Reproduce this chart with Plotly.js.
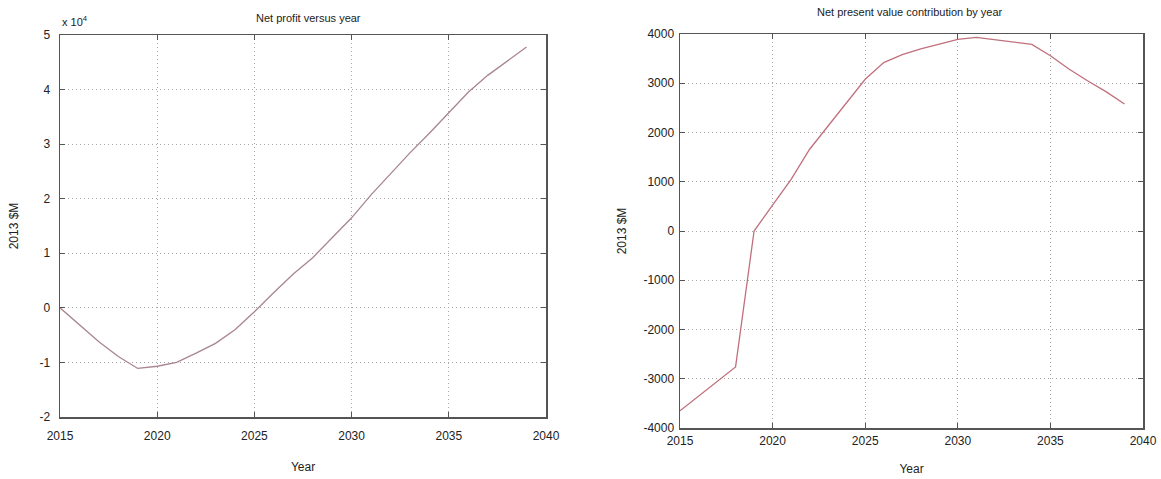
<!DOCTYPE html>
<html>
<head>
<meta charset="utf-8">
<script src="https://cdn.plot.ly/plotly-3.0.1.min.js"></script>
<style>html,body{margin:0;padding:0;background:#fff;}#chart{width:1161px;height:479px;}</style>
</head>
<body>
<div id="chart"></div>
<script>
// Years shared by both panels
const years = [2015,2016,2017,2018,2019,2020,2021,2022,2023,2024,2025,2026,2027,2028,2029,2030,2031,2032,2033,2034,2035,2036,2037,2038,2039];
// Net profit, 2013 $M
const netProfit = [0,-3100,-6200,-8900,-11100,-10700,-10000,-8300,-6500,-4000,-700,2800,6200,9200,12800,16500,20700,24600,28400,32000,35700,39500,42600,45200,47800];
// NPV contribution, 2013 $M
const npvContribution = [-3650,-3350,-3060,-2760,0,520,1050,1660,2130,2610,3080,3420,3580,3700,3800,3890,3930,3880,3840,3790,3560,3290,3050,2830,2580];
// Tick labels
const xTicks = [2015,2020,2025,2030,2035,2040];
const leftYTickVals = [-20000,-10000,0,10000,20000,30000,40000,50000];
const leftYTickText = ['-2','-1','0','1','2','3','4','5'];
const rightYTicks = [-4000,-3000,-2000,-1000,0,1000,2000,3000,4000];
const rightYTickText = ['-4000','-3000','-2000','-1000','0','1000','2000','3000','4000'];

const W = 1161, H = 479;
const fx = p => p / W;
const fy = p => 1 - p / H;

const tickFont = {family: 'Liberation Sans, Arial, sans-serif', size: 12, color: '#222'};
const titleFont = {family: 'Liberation Sans, Arial, sans-serif', size: 11, color: '#222'};
const labelFont = {family: 'Liberation Sans, Arial, sans-serif', size: 12, color: '#222'};

function axisBase() {
  return {
    showline: true, linecolor: '#555', linewidth: 1.5, mirror: 'allticks',
    ticks: 'inside', ticklen: 5, tickcolor: '#555', tickwidth: 1,
    showgrid: true, gridcolor: '#a8a8a8', griddash: '1px,3px', gridwidth: 1,
    zeroline: false, tickfont: tickFont, automargin: false, fixedrange: true
  };
}

const traces = [
  {x: years, y: netProfit, type: 'scatter', mode: 'lines', xaxis: 'x', yaxis: 'y',
   line: {color: '#a88590', width: 1.3}, hoverinfo: 'skip'},
  {x: years, y: npvContribution, type: 'scatter', mode: 'lines', xaxis: 'x2', yaxis: 'y2',
   line: {color: '#c0707c', width: 1.3}, hoverinfo: 'skip'}
];

const layout = {
  width: W, height: H, showlegend: false,
  paper_bgcolor: '#fff', plot_bgcolor: '#fff',
  margin: {l: 0, r: 0, t: 0, b: 0},
  xaxis: Object.assign(axisBase(), {
    domain: [fx(60), fx(546)], range: [2015, 2040], tickvals: xTicks, anchor: 'y',
    ticklabelstandoff: 7,
    title: {text: 'Year', font: labelFont, standoff: 20}
  }),
  yaxis: Object.assign(axisBase(), {
    domain: [fy(417), fy(35)], range: [-20000, 50000], tickvals: leftYTickVals, ticktext: leftYTickText, anchor: 'x',
    ticklabelstandoff: 6,
    title: {text: '2013 $M', font: labelFont, standoff: 18}
  }),
  xaxis2: Object.assign(axisBase(), {
    domain: [fx(680), fx(1143)], range: [2015, 2040], tickvals: xTicks, anchor: 'y2',
    ticklabelstandoff: 1,
    title: {text: 'Year', font: labelFont, standoff: 17}
  }),
  yaxis2: Object.assign(axisBase(), {
    domain: [fy(428), fy(34)], range: [-4000, 4000], tickvals: rightYTicks, ticktext: rightYTickText, anchor: 'x2',
    ticklabelstandoff: 2,
    title: {text: '2013 $M', font: labelFont, standoff: 14}
  }),
  annotations: [
    {text: 'Net profit versus year', xref: 'paper', yref: 'paper', x: fx(308), y: fy(18),
     xanchor: 'center', yanchor: 'middle', showarrow: false, font: titleFont},
    {text: 'Net present value contribution by year', xref: 'paper', yref: 'paper', x: fx(910), y: fy(12),
     xanchor: 'center', yanchor: 'middle', showarrow: false, font: titleFont},
    {text: 'x 10<sup>4</sup>', xref: 'paper', yref: 'paper', x: fx(60), y: fy(21),
     xanchor: 'left', yanchor: 'middle', showarrow: false, font: {family: 'Liberation Sans, Arial, sans-serif', size: 11, color: '#222'}}
  ]
};

Plotly.newPlot('chart', traces, layout, {displayModeBar: false, staticPlot: true});
</script>
</body>
</html>
